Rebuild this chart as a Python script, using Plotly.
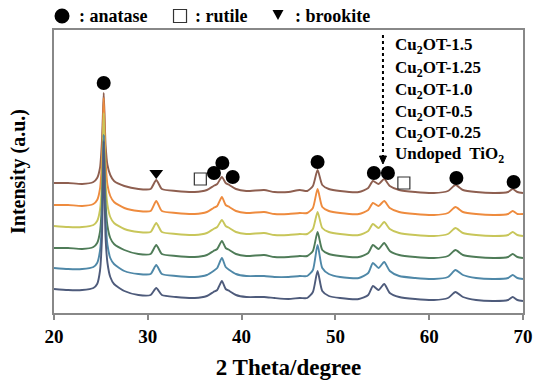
import plotly.graph_objects as go

# ---- data ----
two_theta = [20, 21.5, 23, 24.2, 24.6, 24.9, 25.1, 25.2, 25.3, 25.4, 25.5, 25.7, 26.0, 26.4,
             27.5, 29, 30.3, 30.9, 31.5, 33, 35, 36.3, 37.0, 37.4, 37.9, 38.3, 38.7, 39.4,
             40.5, 42.4, 43.5, 45, 46.2, 47, 47.6, 48.1, 48.6, 49.3, 50.5, 52.5, 53.5, 54.0,
             54.6, 55.2, 55.8, 56.8, 58.5, 60.5, 62.0, 62.8, 63.6, 65, 67, 68.4, 68.9, 69.4, 70]

cu2ot_1_5 = [130, 130, 129, 131, 135, 145, 170, 195, 220, 195, 168, 148, 138, 132,
             127, 124, 124, 133, 124, 122, 121, 123, 127, 129, 136, 130, 128, 124,
             122, 123, 121, 121, 123, 122, 127, 143, 128, 124, 122, 121, 125, 132,
             129, 134, 127, 123, 121, 120, 122, 128, 123, 121, 120, 121, 124, 121, 120]
cu2ot_1_25 = [108, 108, 107, 109, 113, 124, 150, 180, 215, 183, 152, 128, 117, 111,
              105, 102, 102, 112, 102, 100, 99, 101, 105, 107, 116, 108, 106, 102,
              100, 101, 99, 99, 100, 100, 105, 124, 106, 102, 100, 99, 103, 110,
              107, 112, 105, 101, 99, 98, 100, 106, 101, 99, 98, 99, 102, 99, 99]
cu2ot_1_0 = [87, 86, 86, 88, 92, 103, 128, 160, 200, 162, 130, 108, 96, 90,
             84, 81, 81, 90, 81, 79, 78, 80, 84, 86, 93, 87, 85, 81,
             79, 80, 78, 78, 79, 79, 84, 101, 85, 81, 79, 78, 82, 89,
             85, 91, 84, 80, 78, 77, 79, 85, 80, 78, 77, 78, 81, 78, 77]
cu2ot_0_5 = [65, 65, 64, 66, 70, 81, 108, 145, 178, 145, 110, 87, 75, 69,
             63, 59, 59, 68, 59, 57, 56, 58, 62, 64, 72, 65, 63, 59,
             57, 58, 56, 56, 57, 57, 62, 81, 63, 59, 57, 56, 60, 68,
             64, 70, 62, 58, 56, 55, 57, 63, 58, 56, 55, 56, 59, 56, 55]
cu2ot_0_25 = [45, 44, 44, 46, 50, 62, 90, 130, 178, 132, 93, 68, 55, 49,
              42, 39, 39, 48, 39, 37, 36, 38, 42, 45, 55, 46, 43, 39,
              37, 37, 36, 36, 37, 37, 43, 68, 45, 39, 36, 35, 40, 50,
              45, 51, 42, 37, 35, 34, 36, 43, 38, 35, 34, 35, 38, 35, 34]
undoped_tio2 = [24, 23, 23, 25, 29, 42, 72, 115, 172, 118, 75, 50, 36, 29,
                22, 18, 18, 25, 18, 16, 15, 17, 21, 23, 32, 24, 22, 18,
                16, 16, 15, 14, 15, 15, 21, 42, 22, 17, 15, 14, 18, 27,
                23, 29, 20, 16, 14, 13, 15, 21, 16, 13, 12, 13, 16, 13, 12]

series_names = ["Cu<sub>2</sub>OT-1.5", "Cu<sub>2</sub>OT-1.25", "Cu<sub>2</sub>OT-1.0",
                "Cu<sub>2</sub>OT-0.5", "Cu<sub>2</sub>OT-0.25", "Undoped  TiO<sub>2</sub>"]
series_values = [cu2ot_1_5, cu2ot_1_25, cu2ot_1_0, cu2ot_0_5, cu2ot_0_25, undoped_tio2]
series_colors = ["#8E5F50", "#EE8B3E", "#C8C65A", "#4F7C58", "#4F88A8", "#4E5B7B"]

# phase markers (2theta, height)
anatase_x = [25.3, 37.05, 37.95, 39.05, 48.1, 54.1, 55.6, 62.9, 69.0]
anatase_y = [230, 140, 150, 136, 151, 140, 140, 135, 131]
rutile_x = [35.6, 57.3]
rutile_y = [134, 130]
brookite_x = [30.9]
brookite_y = [140]

x_ticks = [20, 30, 40, 50, 60, 70]

FONT = "Liberation Serif"

fig = go.Figure()
for name, vals, col in zip(series_names, series_values, series_colors):
    fig.add_trace(go.Scatter(x=two_theta, y=vals, mode="lines", name=name,
                             line=dict(color=col, width=1.9, shape="spline", smoothing=0.6),
                             showlegend=False))

fig.add_trace(go.Scatter(x=anatase_x, y=anatase_y, mode="markers", showlegend=False,
                         marker=dict(symbol="circle", size=14, color="black")))
fig.add_trace(go.Scatter(x=rutile_x, y=rutile_y, mode="markers", showlegend=False,
                         marker=dict(symbol="square-open", size=12, color="#333333",
                                     line=dict(width=1.2))))
fig.add_trace(go.Scatter(x=brookite_x, y=brookite_y, mode="markers", showlegend=False,
                         marker=dict(symbol="triangle-down", size=12, color="black")))

shapes = []
# dotted arrow
shapes.append(dict(type="line", xref="x", yref="y", x0=55.07, x1=55.07, y0=278, y1=156,
                   line=dict(color="black", width=2, dash="dot")))
shapes.append(dict(type="path", xref="x", yref="y", xsizemode="pixel", ysizemode="pixel",
                   xanchor=55.07, yanchor=149, path="M -3.5,8 L 3.5,8 L 0,0 Z",
                   fillcolor="black", line=dict(color="black", width=1)))
# top key symbols
shapes.append(dict(type="circle", xref="paper", yref="paper", xsizemode="pixel", ysizemode="pixel",
                   xanchor=0.0171, yanchor=1.0495, x0=-7.5, x1=7.5, y0=-7.5, y1=7.5,
                   fillcolor="black", line=dict(color="black", width=0)))
shapes.append(dict(type="rect", xref="paper", yref="paper", xsizemode="pixel", ysizemode="pixel",
                   xanchor=0.2687, yanchor=1.0495, x0=-6.5, x1=6.5, y0=-6.5, y1=6.5,
                   fillcolor="white", line=dict(color="#333333", width=1.2)))
shapes.append(dict(type="path", xref="paper", yref="paper", xsizemode="pixel", ysizemode="pixel",
                   xanchor=0.4776, yanchor=1.053, path="M -5.5,5 L 5.5,5 L 0,-5 Z",
                   fillcolor="black", line=dict(color="black", width=0)))

annotations = []
for txt, xp in [(": anatase", 0.0490), (": rutile", 0.2964), (": brookite", 0.5096)]:
    annotations.append(dict(text=txt, xref="paper", yref="paper", x=xp, y=1.0495,
                            xanchor="left", yanchor="middle", showarrow=False,
                            font=dict(family=FONT, size=18, color="black", weight="bold")))
label_y = [0.942, 0.862, 0.786, 0.708, 0.634, 0.558]
for name, yp in zip(series_names, label_y):
    annotations.append(dict(text=name, xref="paper", yref="paper", x=0.722, y=yp,
                            xanchor="left", yanchor="middle", showarrow=False,
                            font=dict(family=FONT, size=17, color="black", weight="bold")))

fig.update_layout(
    width=535, height=380,
    margin=dict(l=54, r=12, t=30, b=67),
    paper_bgcolor="white", plot_bgcolor="white",
    shapes=shapes, annotations=annotations,
    xaxis=dict(range=[20, 70], tickvals=x_ticks, ticks="outside", ticklen=5, tickwidth=1.5,
               tickcolor="#888888", showline=True, linecolor="#888888", linewidth=1.5,
               mirror=True, showgrid=False, zeroline=False, automargin=False,
               tickfont=dict(family=FONT, size=19, color="black", weight="bold"),
               title=dict(text="2 Theta/degree", standoff=15,
                          font=dict(family=FONT, size=23, color="black", weight="bold"))),
    yaxis=dict(range=[0, 283], showticklabels=False, ticks="", showline=True,
               linecolor="#888888", linewidth=1.5, mirror=True, showgrid=False, zeroline=False,
               automargin=False,
               title=dict(text="Intensity (a.u.)", standoff=21,
                          font=dict(family=FONT, size=20, color="black", weight="bold"))),
)

fig.write_html("out.html")
